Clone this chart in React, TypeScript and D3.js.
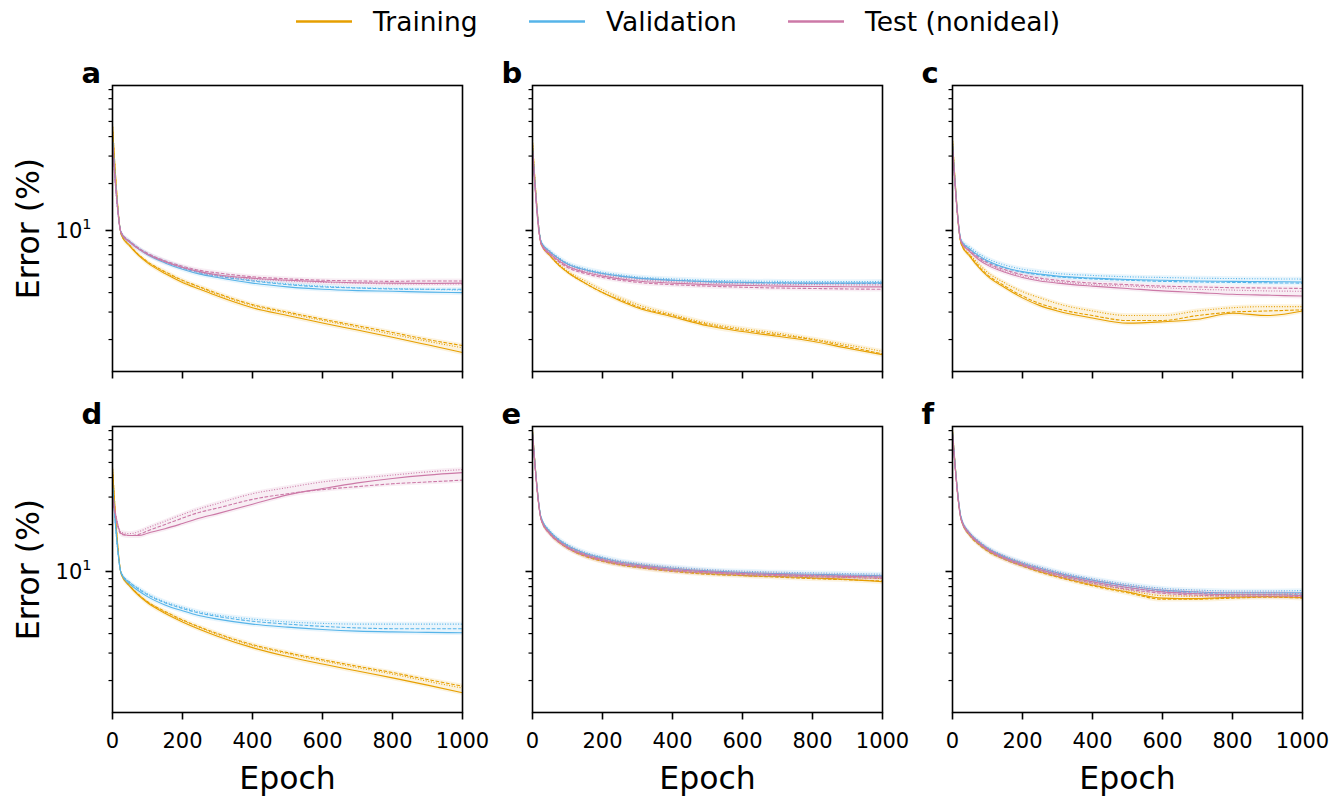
import React from "react";
import * as d3 from "d3";

const EPOCHS = [0, 25, 50, 75, 100, 150, 200, 250, 300, 400, 500, 600, 700, 800, 900, 1000];
const PANEL_LABELS = ["a", "b", "c", "d", "e", "f"];
const X_TICKS = [0, 200, 400, 600, 800, 1000];
const Y_MINOR = [2, 3, 4, 5, 6, 7, 8, 9, 20, 30, 40, 50, 60, 70, 80];
const Y_MAJOR = [10];
const SERIES_NAMES = ["Training", "Validation", "Test (nonideal)"];
const SERIES_COLORS = ["#E69F00", "#56B4E9", "#CC79A7"];

// panel a
const trainA = [
  [47, 9.4, 7.9, 6.9, 6.2, 5.3, 4.65, 4.2, 3.8, 3.2, 2.85, 2.55, 2.3, 2.07, 1.85, 1.65],
  [47, 9.5, 8.0, 7.0, 6.3, 5.45, 4.8, 4.35, 3.95, 3.35, 3.0, 2.7, 2.45, 2.22, 2.0, 1.83],
  [48, 9.5, 8.0, 7.0, 6.3, 5.4, 4.75, 4.3, 3.9, 3.3, 2.95, 2.65, 2.4, 2.16, 1.95, 1.77],
];
const valA = [
  [38, 9.6, 8.4, 7.6, 7.0, 6.2, 5.65, 5.25, 5.0, 4.6, 4.35, 4.2, 4.12, 4.08, 4.03, 4.0],
  [40, 9.7, 8.5, 7.7, 7.1, 6.3, 5.75, 5.35, 5.1, 4.75, 4.5, 4.35, 4.28, 4.22, 4.2, 4.2],
  [36, 9.7, 8.5, 7.7, 7.1, 6.35, 5.8, 5.4, 5.15, 4.8, 4.55, 4.4, 4.3, 4.25, 4.2, 4.15],
];
const testA = [
  [35, 9.6, 8.4, 7.6, 7.05, 6.3, 5.8, 5.45, 5.2, 4.95, 4.8, 4.7, 4.62, 4.6, 4.58, 4.6],
  [37, 9.7, 8.5, 7.7, 7.15, 6.4, 5.9, 5.55, 5.35, 5.05, 4.9, 4.8, 4.75, 4.72, 4.75, 4.75],
  [34, 9.6, 8.4, 7.6, 7.05, 6.3, 5.8, 5.4, 5.15, 4.9, 4.75, 4.65, 4.6, 4.55, 4.55, 4.55],
];
// panel b
const trainB = [
  [37, 8.2, 6.9, 6.0, 5.4, 4.6, 4.0, 3.55, 3.2, 2.8, 2.45, 2.25, 2.1, 1.95, 1.76, 1.6],
  [36, 8.2, 6.9, 6.0, 5.4, 4.6, 4.0, 3.6, 3.25, 2.85, 2.5, 2.3, 2.15, 2.0, 1.8, 1.62],
  [38, 8.3, 7.0, 6.1, 5.5, 4.75, 4.15, 3.7, 3.35, 2.9, 2.55, 2.35, 2.2, 2.02, 1.85, 1.68],
];
const valB = [
  [34, 8.4, 7.3, 6.6, 6.1, 5.6, 5.3, 5.1, 4.95, 4.8, 4.7, 4.65, 4.62, 4.6, 4.6, 4.62],
  [33, 8.4, 7.3, 6.6, 6.1, 5.6, 5.3, 5.1, 4.95, 4.8, 4.7, 4.62, 4.6, 4.58, 4.58, 4.58],
  [35, 8.5, 7.4, 6.7, 6.2, 5.7, 5.4, 5.2, 5.05, 4.9, 4.8, 4.75, 4.72, 4.7, 4.7, 4.72],
];
const testB = [
  [33, 8.2, 7.1, 6.4, 5.9, 5.4, 5.1, 4.9, 4.75, 4.6, 4.5, 4.45, 4.4, 4.38, 4.36, 4.35],
  [32, 8.1, 7.0, 6.3, 5.8, 5.3, 5.0, 4.8, 4.65, 4.5, 4.4, 4.33, 4.28, 4.25, 4.22, 4.2],
  [34, 8.3, 7.2, 6.5, 6.0, 5.5, 5.2, 5.0, 4.85, 4.7, 4.6, 4.55, 4.5, 4.5, 4.48, 4.48],
];
// panel c
const trainC = [
  [38, 8.2, 6.8, 5.8, 5.1, 4.3, 3.7, 3.3, 3.05, 2.75, 2.55, 2.6, 2.7, 2.95, 2.85, 3.05],
  [37, 8.2, 6.9, 5.9, 5.2, 4.4, 3.8, 3.4, 3.15, 2.85, 2.65, 2.65, 2.85, 3.0, 3.05, 3.1],
  [39, 8.3, 7.0, 6.1, 5.4, 4.6, 4.05, 3.7, 3.4, 3.05, 2.85, 2.85, 3.05, 3.2, 3.25, 3.25],
];
const valC = [
  [36, 8.6, 7.6, 6.9, 6.4, 5.8, 5.45, 5.25, 5.1, 4.95, 4.85, 4.8, 4.75, 4.72, 4.7, 4.68],
  [35, 8.5, 7.5, 6.8, 6.3, 5.75, 5.4, 5.2, 5.05, 4.9, 4.8, 4.72, 4.68, 4.65, 4.62, 4.6],
  [37, 8.7, 7.8, 7.1, 6.6, 6.0, 5.65, 5.45, 5.3, 5.15, 5.05, 5.0, 4.95, 4.92, 4.9, 4.88],
];
const testC = [
  [34, 8.4, 7.3, 6.5, 6.0, 5.4, 5.0, 4.75, 4.6, 4.4, 4.25, 4.1, 4.0, 3.9, 3.85, 3.8],
  [35, 8.5, 7.4, 6.7, 6.2, 5.6, 5.2, 4.95, 4.8, 4.6, 4.5, 4.4, 4.35, 4.3, 4.28, 4.25],
  [34, 8.4, 7.4, 6.6, 6.1, 5.5, 5.1, 4.85, 4.7, 4.5, 4.4, 4.3, 4.2, 4.15, 4.1, 4.08],
];
// panel d
const trainD = [
  [46, 9.6, 8.0, 7.0, 6.3, 5.4, 4.75, 4.25, 3.85, 3.25, 2.85, 2.55, 2.3, 2.08, 1.87, 1.67],
  [46, 9.7, 8.1, 7.1, 6.4, 5.55, 4.9, 4.4, 4.0, 3.4, 3.02, 2.72, 2.47, 2.25, 2.03, 1.84],
  [47, 9.7, 8.1, 7.1, 6.4, 5.5, 4.85, 4.35, 3.95, 3.35, 2.97, 2.67, 2.42, 2.2, 1.98, 1.79],
];
const valD = [
  [35, 9.7, 8.3, 7.5, 6.9, 6.1, 5.6, 5.2, 4.95, 4.6, 4.4, 4.25, 4.15, 4.1, 4.07, 4.05],
  [37, 9.8, 8.5, 7.7, 7.1, 6.3, 5.8, 5.4, 5.15, 4.8, 4.6, 4.45, 4.35, 4.3, 4.3, 4.3],
  [36, 9.8, 8.5, 7.8, 7.2, 6.4, 5.9, 5.5, 5.25, 4.95, 4.75, 4.65, 4.6, 4.6, 4.6, 4.6],
];
const testD = [
  [30, 17.5, 17.0, 17.0, 17.6, 18.8, 20.3, 22, 23.5, 27, 31, 34, 37, 39.5, 41.5, 43],
  [29, 17.3, 17.0, 17.3, 18.2, 20, 22, 24, 25.5, 29, 31.5, 33.5, 35, 36.5, 37.5, 38.5],
  [31, 17.8, 17.5, 18.0, 19.0, 21, 23.2, 25.3, 27.3, 31.5, 34.5, 37.5, 39.5, 41.5, 43.5, 45],
];
// panel e
const trainE = [
  [80, 21.5, 17.5, 15.5, 14.2, 12.6, 11.7, 11.1, 10.7, 10.1, 9.7, 9.45, 9.3, 9.1, 8.9, 8.6],
  [79, 21.5, 17.4, 15.4, 14.1, 12.5, 11.6, 11.0, 10.6, 10.0, 9.6, 9.4, 9.2, 9.0, 8.85, 8.7],
  [81, 21.8, 17.7, 15.7, 14.4, 12.8, 11.9, 11.3, 10.9, 10.3, 9.9, 9.65, 9.5, 9.3, 9.15, 9.0],
];
const valE = [
  [78, 22, 18, 16, 14.7, 13.1, 12.2, 11.5, 11.1, 10.5, 10.1, 9.85, 9.7, 9.6, 9.5, 9.4],
  [77, 21.8, 17.8, 15.8, 14.5, 12.9, 12.0, 11.3, 10.9, 10.3, 9.95, 9.7, 9.55, 9.45, 9.35, 9.25],
  [79, 22.2, 18.2, 16.2, 14.9, 13.3, 12.4, 11.7, 11.3, 10.7, 10.3, 10.05, 9.9, 9.8, 9.7, 9.6],
];
const testE = [
  [76, 21.5, 17.5, 15.6, 14.3, 12.8, 11.9, 11.3, 10.9, 10.3, 9.95, 9.7, 9.55, 9.4, 9.3, 9.2],
  [75, 21.3, 17.3, 15.4, 14.1, 12.6, 11.7, 11.1, 10.7, 10.1, 9.8, 9.55, 9.4, 9.25, 9.15, 9.05],
  [77, 21.7, 17.7, 15.8, 14.5, 13.0, 12.1, 11.5, 11.1, 10.5, 10.1, 9.85, 9.7, 9.55, 9.45, 9.35],
];
// panel f
const trainF = [
  [80, 21.5, 17, 15, 13.6, 12, 10.9, 10.0, 9.3, 8.2, 7.4, 6.75, 6.7, 6.85, 6.9, 6.8],
  [79, 21.4, 16.9, 14.9, 13.5, 11.9, 10.8, 9.9, 9.2, 8.1, 7.3, 6.65, 6.65, 6.75, 6.85, 6.75],
  [81, 21.7, 17.2, 15.2, 13.8, 12.2, 11.1, 10.2, 9.5, 8.4, 7.6, 7.0, 6.95, 7.05, 7.1, 7.0],
];
const valF = [
  [78, 22, 17.5, 15.5, 14.1, 12.4, 11.3, 10.5, 9.8, 8.8, 8.1, 7.6, 7.4, 7.3, 7.3, 7.3],
  [77, 21.8, 17.3, 15.3, 13.9, 12.2, 11.1, 10.3, 9.6, 8.6, 7.9, 7.45, 7.25, 7.15, 7.15, 7.15],
  [79, 22.2, 17.7, 15.7, 14.3, 12.6, 11.5, 10.7, 10.0, 9.0, 8.3, 7.8, 7.6, 7.5, 7.5, 7.55],
];
const testF = [
  [76, 21.5, 17.3, 15.3, 13.9, 12.2, 11.1, 10.3, 9.6, 8.6, 7.9, 7.4, 7.2, 7.1, 7.1, 7.0],
  [75, 21.3, 17.1, 15.1, 13.7, 12.0, 10.9, 10.1, 9.4, 8.4, 7.7, 7.25, 7.05, 6.95, 6.95, 6.9],
  [77, 21.7, 17.5, 15.5, 14.1, 12.4, 11.3, 10.5, 9.8, 8.8, 8.1, 7.6, 7.4, 7.3, 7.3, 7.2],
];

const PANELS = [
  [trainA, valA, testA],
  [trainB, valB, testB],
  [trainC, valC, testC],
  [trainD, valD, testD],
  [trainE, valE, testE],
  [trainF, valF, testF],
];

const DASHES = [null, "3.7,1.6", "1,1.65"];
const FONT = "'DejaVu Sans', Verdana, sans-serif";

const PW = 350;
const PH = 286;
const LEFTS = [112.5, 532.5, 952.5];
const TOPS = [85.5, 426.5];

export default function App() {
  const x = d3.scaleLinear().domain([0, 1000]).range([0, PW]);
  const y = d3.scaleLog().domain([1.248, 85]).range([PH, 0]);
  const line = d3
    .line<number>()
    .x((_, i) => x(EPOCHS[i]))
    .y((v) => y(v))
    .curve(d3.curveMonotoneX);
  const area = d3
    .area<[number, number]>()
    .x((_, i) => x(EPOCHS[i]))
    .y0((d) => y(d[0]))
    .y1((d) => y(d[1]))
    .curve(d3.curveMonotoneX);

  return (
    <svg
      width={1344}
      height={796}
      style={{ position: "absolute", left: 0, top: 0, background: "#fff" }}
      fontFamily={FONT}
    >
      <rect width={1344} height={796} fill="#fff" />
      {/* legend */}
      {SERIES_NAMES.map((name, i) => {
        const lx = [296, 529, 788][i];
        return (
          <g key={name}>
            <line x1={lx} x2={lx + 56} y1={21.5} y2={21.5} stroke={SERIES_COLORS[i]} strokeWidth={2.5} />
            <text x={lx + 77} y={30.5} fontSize={26.5} fill="#000">
              {name}
            </text>
          </g>
        );
      })}
      {PANELS.map((groups, p) => {
        const col = p % 3;
        const row = Math.floor(p / 3);
        const L = LEFTS[col];
        const T = TOPS[row];
        const clipId = `clip${p}`;
        return (
          <g key={p} transform={`translate(${L},${T})`}>
            <defs>
              <clipPath id={clipId}>
                <rect x={0} y={0} width={PW} height={PH} />
              </clipPath>
            </defs>
            <g clipPath={`url(#${clipId})`}>
              {groups.map((runs, g) => {
                const env: [number, number][] = EPOCHS.map((_, k) => {
                  const vals = runs.map((r) => r[k]);
                  return [d3.min(vals)! / 1.035, d3.max(vals)! * 1.035];
                });
                return (
                  <g key={g}>
                    <path d={area(env) || ""} fill={SERIES_COLORS[g]} opacity={0.13} />
                    {runs.map((r, k) => (
                      <path
                        key={k}
                        d={line(r) || ""}
                        fill="none"
                        stroke={SERIES_COLORS[g]}
                        strokeWidth={1.1}
                        strokeDasharray={DASHES[k] || undefined}
                      />
                    ))}
                  </g>
                );
              })}
            </g>
            {/* frame */}
            <rect x={0} y={0} width={PW} height={PH} fill="none" stroke="#000" strokeWidth={1.6} />
            {/* x ticks */}
            {X_TICKS.map((t) => (
              <g key={t}>
                <line x1={x(t)} x2={x(t)} y1={PH} y2={PH + 7} stroke="#000" strokeWidth={1.6} />
                {row === 1 && (
                  <text x={x(t)} y={PH + 35} fontSize={21} textAnchor="middle" fill="#000">
                    {t}
                  </text>
                )}
              </g>
            ))}
            {/* y ticks */}
            {Y_MINOR.map((t) => (
              <line key={t} x1={-4} x2={0} y1={y(t)} y2={y(t)} stroke="#000" strokeWidth={1.2} />
            ))}
            {Y_MAJOR.map((t) => (
              <g key={t}>
                <line x1={-7} x2={0} y1={y(t)} y2={y(t)} stroke="#000" strokeWidth={1.6} />
                {col === 0 && (
                  <text x={-21} y={y(t) + 7.5} fontSize={21} textAnchor="end" fill="#000">
                    10<tspan dy={-9} fontSize={14.5}>1</tspan>
                  </text>
                )}
              </g>
            ))}
            {/* panel letter */}
            <text x={-31} y={-3} fontSize={29} fontWeight="bold" fill="#000">
              {PANEL_LABELS[p]}
            </text>
            {row === 1 && (
              <text x={PW / 2} y={PH + 76} fontSize={31.5} textAnchor="middle" fill="#000">
                Epoch
              </text>
            )}
            {col === 0 && (
              <text
                transform={`translate(${39 - L},${PH / 2}) rotate(-90)`}
                fontSize={31.5}
                textAnchor="middle"
                fill="#000"
              >
                Error (%)
              </text>
            )}
          </g>
        );
      })}
    </svg>
  );
}
